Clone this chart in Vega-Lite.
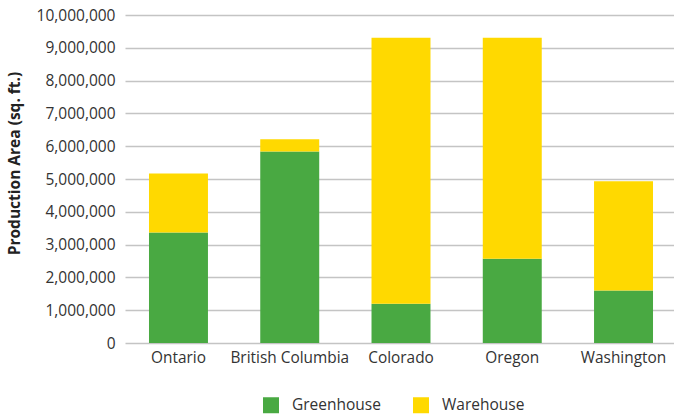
{
  "$schema": "https://vega.github.io/schema/vega-lite/v6.json",
  "width": 552,
  "height": 328,
  "autosize": {"type": "none"},
  "padding": {"left": 125, "top": 15, "right": 0, "bottom": 73},
  "config": {
    "font": "Open Sans",
    "view": {"stroke": null}
  },
  "data": {
    "values": [
      {"region": "Ontario", "type": "Greenhouse", "area": 3370000},
      {"region": "Ontario", "type": "Warehouse", "area": 1800000},
      {"region": "British Columbia", "type": "Greenhouse", "area": 5840000},
      {"region": "British Columbia", "type": "Warehouse", "area": 370000},
      {"region": "Colorado", "type": "Greenhouse", "area": 1200000},
      {"region": "Colorado", "type": "Warehouse", "area": 8110000},
      {"region": "Oregon", "type": "Greenhouse", "area": 2570000},
      {"region": "Oregon", "type": "Warehouse", "area": 6740000},
      {"region": "Washington", "type": "Greenhouse", "area": 1600000},
      {"region": "Washington", "type": "Warehouse", "area": 3330000}
    ]
  },
  "mark": {"type": "bar"},
  "encoding": {
    "x": {
      "field": "region",
      "type": "nominal",
      "sort": null,
      "scale": {"paddingInner": 0.47, "paddingOuter": 0.2156},
      "axis": {
        "title": null,
        "labelAngle": 0,
        "labelFontSize": 15.4,
        "labelColor": "#333333",
        "labelPadding": 7,
        "ticks": false,
        "domain": false
      }
    },
    "y": {
      "field": "area",
      "type": "quantitative",
      "stack": "zero",
      "scale": {"domain": [0, 10000000], "nice": false},
      "axis": {
        "title": "Production Area (sq. ft.)",
        "titleFontSize": 15.5,
        "titleFontWeight": "bold",
        "titleColor": "#222222",
        "titleAngle": 270,
        "titleAlign": "center",
        "titleBaseline": "middle",
        "titleX": -111,
        "titleY": 148,
        "values": [0, 1000000, 2000000, 3000000, 4000000, 5000000, 6000000, 7000000, 8000000, 9000000, 10000000],
        "format": ",d",
        "labelFontSize": 15.5,
        "labelColor": "#333333",
        "labelPadding": 10,
        "ticks": false,
        "domain": false,
        "gridColor": "#c4c4c4",
        "gridWidth": 1.5
      }
    },
    "color": {
      "field": "type",
      "type": "nominal",
      "scale": {"domain": ["Greenhouse", "Warehouse"], "range": ["#49a942", "#ffd900"]},
      "legend": {
        "title": null,
        "orient": "none",
        "direction": "horizontal",
        "legendX": 138,
        "legendY": 382,
        "symbolType": "square",
        "symbolSize": 256,
        "symbolStrokeWidth": 0,
        "symbolOpacity": 1,
        "labelFontSize": 15.5,
        "labelColor": "#333333",
        "labelOffset": 13,
        "columnPadding": 32
      }
    },
    "order": {"field": "type", "sort": "ascending"}
  }
}
